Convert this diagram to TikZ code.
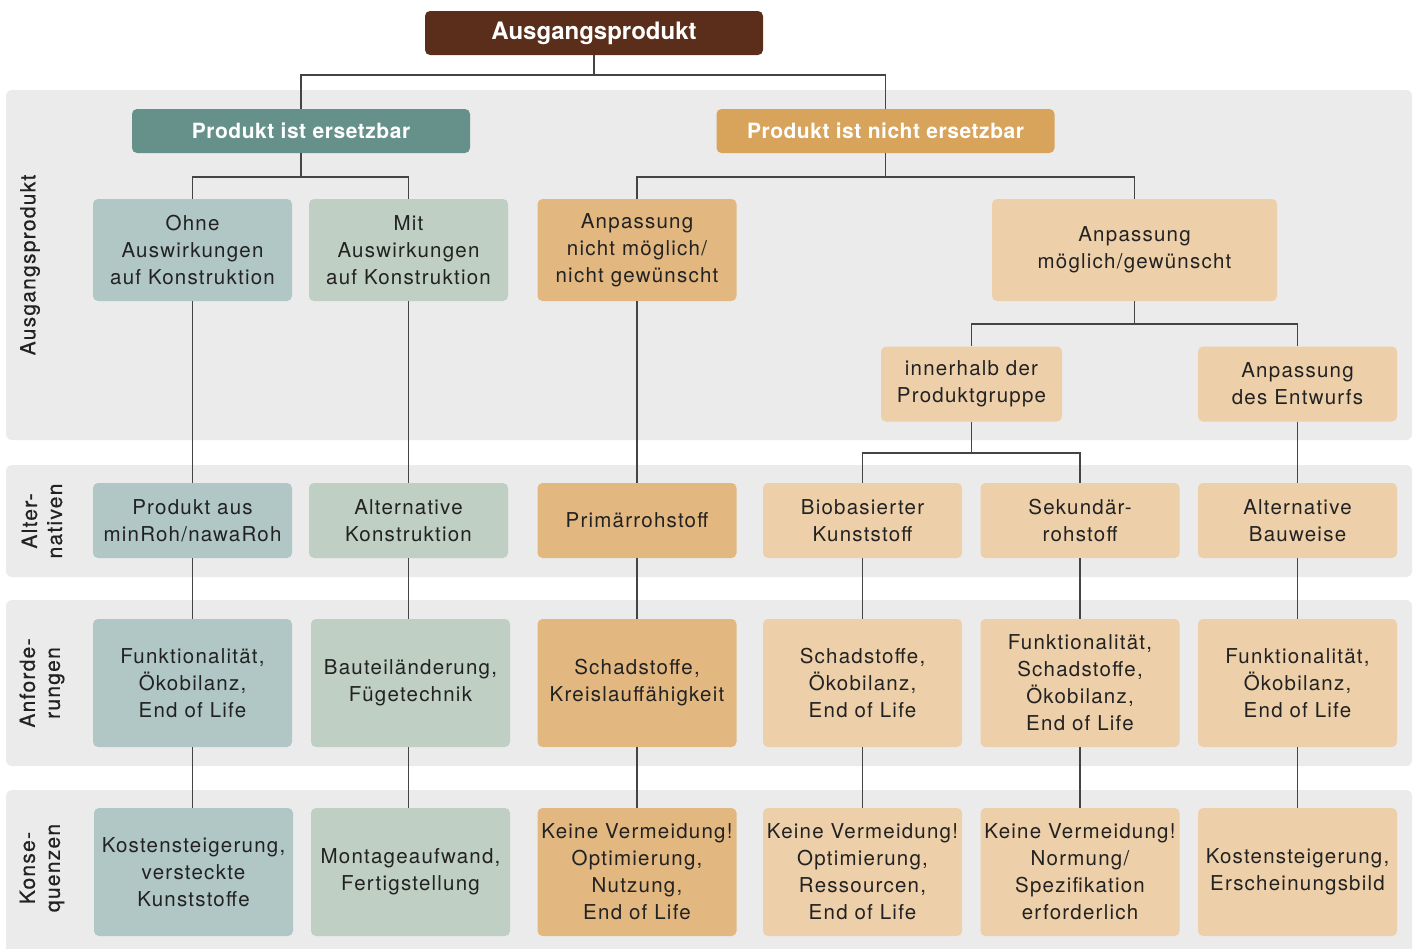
\documentclass[tikz,border=0pt]{standalone}
\usepackage{fontspec}
\setmainfont{TeX Gyre Heros}
\newfontfamily\boxfont[LetterSpace=6]{TeX Gyre Heros}
\newfontfamily\hdfont[LetterSpace=2.5]{TeX Gyre Heros}
\newfontfamily\sidefont[LetterSpace=6,FakeBold=0.5]{TeX Gyre Heros}
\definecolor{brown}{HTML}{5A2E1A}
\definecolor{teal}{HTML}{66918A}
\definecolor{orng}{HTML}{D8A45C}
\definecolor{cA}{HTML}{B0C7C5}
\definecolor{cB}{HTML}{BFCFC4}
\definecolor{cC}{HTML}{E2B780}
\definecolor{cD}{HTML}{EDCFA9}
\definecolor{band}{HTML}{EBEBEB}
\definecolor{ln}{HTML}{444444}
\definecolor{txt}{HTML}{222222}
\tikzset{
  bx/.style={rectangle, rounded corners=5pt, align=center, inner sep=0pt, text=txt,
    font=\boxfont\fontsize{20.5}{27}\selectfont, minimum width=199pt},
  hd/.style={rectangle, rounded corners=5pt, align=center, inner sep=0pt, text=white,
    font=\hdfont\fontsize{21}{26}\selectfont\bfseries, minimum width=338pt, minimum height=44pt},
  side/.style={rotate=90, align=center, text=txt, font=\sidefont\fontsize{21}{25}\selectfont, inner sep=0pt},
  con/.style={draw=ln, line width=1.3pt},
  r2/.style={minimum height=102pt},
  r3/.style={minimum height=75pt},
  r4/.style={minimum height=128pt},
}
\begin{document}
\begin{tikzpicture}[x=1pt,y=-1pt]
\useasboundingbox (0,0) rectangle (1416,948);
% bands
\fill[band, rounded corners=6pt] (6,90) rectangle (1412,440);
\fill[band, rounded corners=6pt] (6,465) rectangle (1412,577);
\fill[band, rounded corners=6pt] (6,600) rectangle (1412,766);
\fill[band, rounded corners=6pt] (6,790) rectangle (1412,960);
% side labels
\node[side] (s1) at (30,265) {Ausgangsprodukt};
\node[side] (s2) at (42,521) {Alter-\\nativen};
\node[side] (s3) at (42,683) {Anforde-\\rungen};
\node[side] (s4) at (42,868) {Konse-\\quenzen};
% headers
\node[hd, fill=brown, font=\fontsize{24}{28}\selectfont\bfseries] (top) at (594,33) {Ausgangsprodukt};
\node[hd, fill=teal] (ers) at (301,131) {Produkt ist ersetzbar};
\node[hd, fill=orng] (nie) at (885.5,131) {Produkt ist nicht ersetzbar};
% row 2
\node[bx, r2, fill=cA] (ohne) at (192.5,250) {Ohne\\Auswirkungen\\auf Konstruktion};
\node[bx, r2, fill=cB] (mit) at (408.5,250) {Mit\\Auswirkungen\\auf Konstruktion};
\node[bx, r2, fill=cC] (anm) at (637,250) {Anpassung\\nicht möglich/\\nicht gewünscht};
\node[bx, r2, fill=cD, minimum width=285pt] (anj) at (1134.5,250) {Anpassung\\möglich/gewünscht};
\node[bx, r3, fill=cD, minimum width=181pt] (inn) at (971.5,384) {innerhalb der\\Produktgruppe};
\node[bx, r3, fill=cD] (ent) at (1297.5,384) {Anpassung\\des Entwurfs};
% row alternatives
\node[bx, r3, fill=cA] (a1) at (192.5,520.5) {Produkt aus\\minRoh/nawaRoh};
\node[bx, r3, fill=cB] (a2) at (408.5,520.5) {Alternative\\Konstruktion};
\node[bx, r3, fill=cC] (a3) at (637,520.5) {Primärrohstoff};
\node[bx, r3, fill=cD] (a4) at (862.5,520.5) {Biobasierter\\Kunststoff};
\node[bx, r3, fill=cD] (a5) at (1080,520.5) {Sekundär-\\rohstoff};
\node[bx, r3, fill=cD] (a6) at (1297.5,520.5) {Alternative\\Bauweise};
% row Anforderungen
\node[bx, r4, fill=cA] (b1) at (192.5,683) {Funktionalität,\\Ökobilanz,\\End of Life};
\node[bx, r4, fill=cB] (b2) at (410.5,683) {Bauteiländerung,\\Fügetechnik};
\node[bx, r4, fill=cC] (b3) at (637,683) {Schadstoffe,\\Kreislauffähigkeit};
\node[bx, r4, fill=cD] (b4) at (862.5,683) {Schadstoffe,\\Ökobilanz,\\End of Life};
\node[bx, r4, fill=cD] (b5) at (1080,683) {Funktionalität,\\Schadstoffe,\\Ökobilanz,\\End of Life};
\node[bx, r4, fill=cD] (b6) at (1297.5,683) {Funktionalität,\\Ökobilanz,\\End of Life};
% row Konsequenzen
\node[bx, r4, fill=cA] (c1) at (193.5,872) {Kostensteigerung,\\versteckte\\Kunststoffe};
\node[bx, r4, fill=cB] (c2) at (410.5,872) {Montageaufwand,\\Fertigstellung};
\node[bx, r4, fill=cC] (c3) at (637,872) {Keine Vermeidung!\\Optimierung,\\Nutzung,\\End of Life};
\node[bx, r4, fill=cD] (c4) at (862.5,872) {Keine Vermeidung!\\Optimierung,\\Ressourcen,\\End of Life};
\node[bx, r4, fill=cD] (c5) at (1080,872) {Keine Vermeidung!\\Normung/\\Spezifikation\\erforderlich};
\node[bx, r4, fill=cD] (c6) at (1297.5,872) {Kostensteigerung,\\Erscheinungsbild};
% connectors (tree)
\draw[con] (top.south) -- (top.south |- 0,75) -| (ers.north);
\draw[con] (top.south |- 0,75) -| (nie.north);
\draw[con] (ers.south) -- (ers.south |- 0,177) -| (ohne.north);
\draw[con] (ers.south |- 0,177) -| (mit.north);
\draw[con] (nie.south) -- (nie.south |- 0,177) -| (anm.north);
\draw[con] (nie.south |- 0,177) -| (anj.north);
\draw[con] (anj.south) -- (anj.south |- 0,324) -| (inn.north);
\draw[con] (anj.south |- 0,324) -| (ent.north);
\draw[con] (inn.south) -- (inn.south |- 0,453) -| (a4.north);
\draw[con] (inn.south |- 0,453) -| (a5.north);
% vertical links
\draw[con] (ohne.south) -- (a1.north);
\draw[con] (mit.south) -- (a2.north);
\draw[con] (anm.south) -- (a3.north);
\draw[con] (ent.south) -- (a6.north);
\draw[con] (a1.south) -- (a1.south |- b1.north);
\draw[con] (a2.south) -- (a2.south |- b2.north);
\draw[con] (a3.south) -- (b3.north);
\draw[con] (a4.south) -- (b4.north);
\draw[con] (a5.south) -- (b5.north);
\draw[con] (a6.south) -- (b6.north);
\draw[con] (b1.south -| a1.south) -- (a1.south |- c1.north);
\draw[con] (b2.south -| a2.south) -- (a2.south |- c2.north);
\draw[con] (b3.south) -- (c3.north);
\draw[con] (b4.south) -- (c4.north);
\draw[con] (b5.south) -- (c5.north);
\draw[con] (b6.south) -- (c6.north);
\end{tikzpicture}
\end{document}
